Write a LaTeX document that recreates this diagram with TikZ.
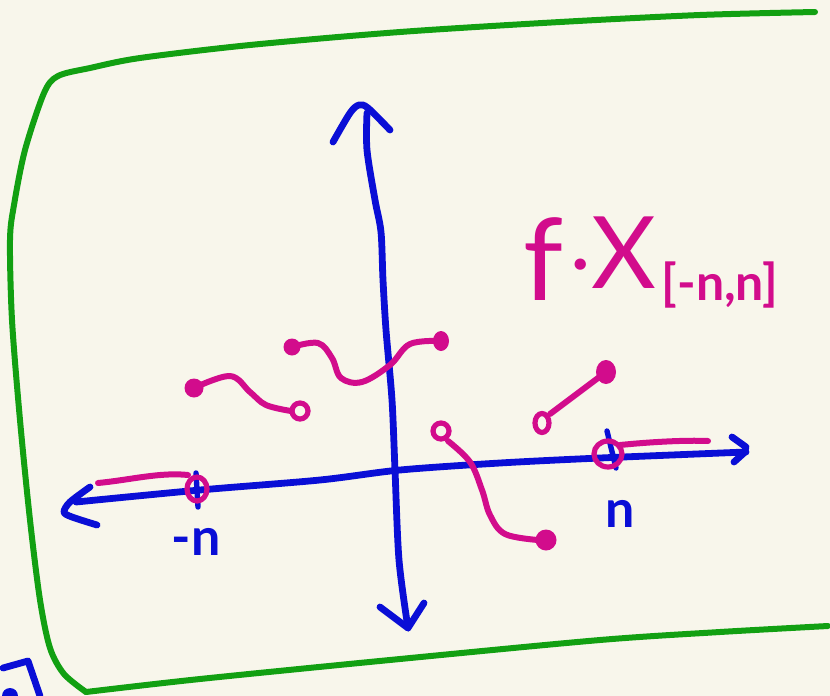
\documentclass[tikz,border=0pt]{standalone}
\usepackage{fontspec}
\setmainfont{Lato}
\begin{document}
\begin{tikzpicture}[x=1pt,y=-1pt,
  line cap=round, line join=round,
  frame/.style={draw=framegreen, line width=6pt},
  axis/.style={draw=axisblue, line width=6.8pt},
  fn/.style={draw=fnpink, line width=6pt},
  opendot/.style={draw=fnpink, line width=5.2pt, fill=paper},
  bluelabel/.style={text=axisblue, font=\bfseries\fontsize{52}{56}\selectfont, inner sep=0pt},
  pinklabel/.style={text=fnpink, inner sep=0pt}]
\definecolor{paper}{HTML}{F8F6EB}
\definecolor{framegreen}{HTML}{12A012}
\definecolor{axisblue}{HTML}{0A0ED6}
\definecolor{fnpink}{HTML}{D20C8C}
\fill[paper] (0,0) rectangle (830,696);
\useasboundingbox (0,0) rectangle (830,696);
% green frame
\draw[frame] plot[smooth, tension=0.5] coordinates {(815,12) (700,15) (560,22) (400,32) (250,45) (140,58) (90,68) (58,76) (44,93) (25,150) (14,205) (10,240) (12,320) (20,420) (30,520) (40,600) (50,648) (64,674) (86,692)};
\draw[frame] plot[smooth, tension=0.5] coordinates {(86,692) (200,679) (400,659) (600,640) (720,632) (828,626)};
% partial blue sketch bottom-left
\draw[axis] (3,668) -- (28,661) -- (40,696);
\fill[axisblue] (10,696) circle (8);
% vertical axis
\coordinate (vtop) at (367,113);
\coordinate (vbot) at (408,628);
\draw[axis] plot[smooth, tension=0.5] coordinates {(vtop) (367,150) (375,200) (381,232) (383,280) (386,330) (392,400) (395,470) (399,560) (vbot)};
\draw[axis] plot[smooth, tension=0.5] coordinates {(333,142) (350,113) (359,105) (368,108) (390,130)};
\draw[axis] (380,607) -- (vbot) -- (424,603);
% horizontal axis
\coordinate (hleft) at (76,502);
\coordinate (hright) at (746,452);
\draw[axis] plot[smooth, tension=0.5] coordinates {(hleft) (200,490) (320,480) (400,470) (500,463) (600,458) (hright)};
\draw[axis] plot[smooth, tension=0.5] coordinates {(90,487) (70,502) (64,512) (72,517) (97,525)};
\draw[axis] (732,437) -- (746,447) -- (744,453) -- (734,462);
% ticks
\draw[axis, line width=5.4pt] (196,473) -- (198,507);
\draw[axis, line width=5.4pt] (607,431) -- (616,468);
% labels
\node[bluelabel] (mn) at (196,542) {-n};
\node[bluelabel] (pn) at (620,514) {n};
% pink pieces
\coordinate (o1) at (197,489);
\draw[fn] (98,483) .. controls (130,480) and (160,472) .. (188,475);
\draw[opendot, fill=none] (o1) ellipse (10 and 12);

\coordinate (f2) at (194,388);
\coordinate (o2) at (300,411);
\draw[fn] plot[smooth, tension=0.6] coordinates {(f2) (230,376) (250,392) (266,405) (291,411)};
\fill[fnpink] (f2) circle (9.5);
\draw[opendot] (o2) circle (8);

\coordinate (f3) at (292,347);
\coordinate (f3b) at (441,341);
\draw[fn] plot[smooth, tension=0.6] coordinates {(f3) (318,343) (332,358) (341,378) (362,382) (390,365) (410,344) (f3b)};
\fill[fnpink] (f3) circle (8.5);
\fill[fnpink] (f3b) ellipse (8 and 10);

\coordinate (o4) at (441,431);
\coordinate (f4) at (546,540);
\draw[fn] plot[smooth, tension=0.6] coordinates {(448,441) (470,462) (482,490) (490,515) (505,534) (538,540)};
\draw[opendot] (o4) circle (8);
\fill[fnpink] (f4) circle (10.5);

\coordinate (o5) at (542,423);
\coordinate (f5) at (606,372);
\draw[fn] (550,414) -- (f5);
\draw[opendot] (o5) ellipse (7 and 9.5);
\fill[fnpink] (f5) ellipse (10 and 12);

\coordinate (o6) at (608,454);
\draw[fn] (620,445) .. controls (650,442) and (685,440) .. (708,441);
\draw[opendot, fill=none] (o6) ellipse (14 and 13);

% formula
\node[pinklabel, font=\fontsize{114}{120}\selectfont, anchor=base] (ff) at (543,300) {f};
\node[pinklabel, font=\bfseries\fontsize{60}{64}\selectfont, anchor=base] (dot) at (581,282) {·};
\node[pinklabel, font=\fontsize{100}{110}\selectfont, anchor=base] (xx) at (624,288) {X};
\node[pinklabel, font=\bfseries\fontsize{50}{56}\selectfont, anchor=base] (sub) at (720,300) {[-n,n]};
\end{tikzpicture}
\end{document}
